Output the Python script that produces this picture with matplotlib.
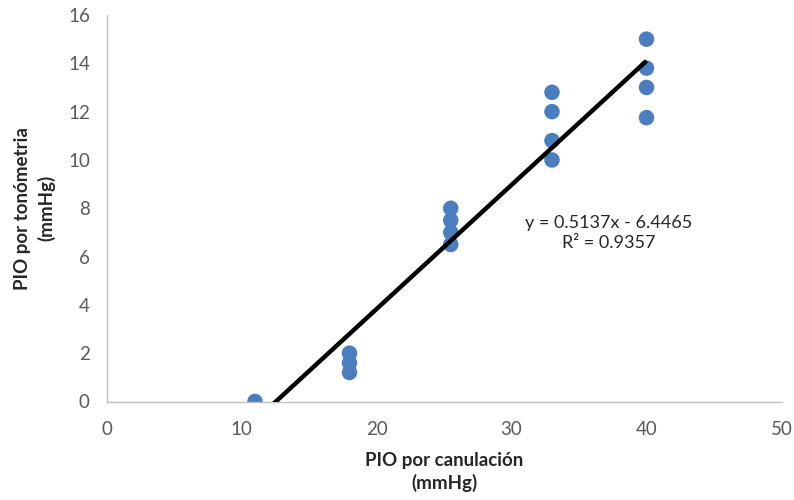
import matplotlib
matplotlib.use("Agg")
import matplotlib.pyplot as plt
import numpy as np

x_canulacion = [11, 18, 18, 18, 25.5, 25.5, 25.5, 25.5, 33, 33, 33, 33, 40, 40, 40, 40]
y_tonometria = [0, 2.0, 1.6, 1.2, 8.0, 7.5, 7.0, 6.5, 12.8, 12.0, 10.8, 10.0, 15.0, 13.8, 13.0, 11.75]
slope = 0.5137
intercept = -6.4465
r2 = 0.9357
x_ticks = [0, 10, 20, 30, 40, 50]
y_ticks = [0, 2, 4, 6, 8, 10, 12, 14, 16]

plt.rcParams['font.family'] = ['Lato', 'DejaVu Sans']

fig = plt.figure(figsize=(7.94, 5), dpi=100)
ax = fig.add_axes([106.5/794, 98.5/500, 675/794, 386.5/500])

ax.scatter(x_canulacion, y_tonometria, s=125, color='#4A7EBF', zorder=2, edgecolors='none')

xl = np.array([min(x_canulacion), max(x_canulacion)])
yl = slope * xl + intercept
ax.plot(xl, yl, color='black', lw=3.2, zorder=3, solid_capstyle='butt')

ax.set_xlim(0, 50)
ax.set_ylim(0, 16)
ax.set_xticks(x_ticks)
ax.set_yticks(y_ticks)
ax.tick_params(length=0, labelsize=13.5, colors='#595959')
ax.tick_params(axis='y', pad=12)
ax.tick_params(axis='x', pad=14)
for s in ['top', 'right']:
    ax.spines[s].set_visible(False)
for s in ['left', 'bottom']:
    ax.spines[s].set_color('#BFBFBF')
    ax.spines[s].set_linewidth(1)

ax.set_xlabel('PIO por canulación\n(mmHg)', fontsize=13.5, fontweight='bold', color='#262626', labelpad=10, linespacing=1.35)
ax.set_ylabel('PIO por tonómetria\n(mmHg)', fontsize=13.5, fontweight='bold', color='#262626', labelpad=9, linespacing=1.4)

eq = f'y = {slope:.4f}x - {abs(intercept):.4f}\nR² = {r2:.4f}'
ax.text(37.2, 6.97, eq, ha='center', va='center', fontsize=13, color='#262626', linespacing=1.35)

fig.savefig('out.png', dpi=100)
